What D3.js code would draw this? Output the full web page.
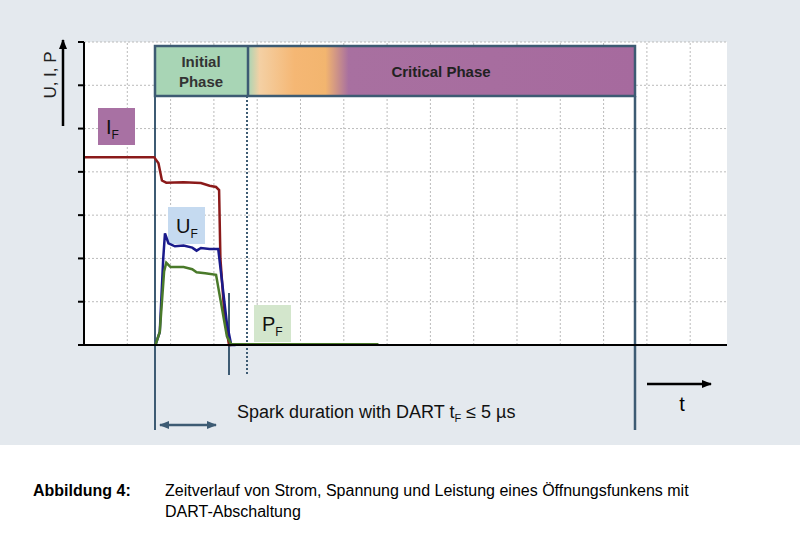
<!DOCTYPE html><html><head><meta charset="utf-8">
<script src="https://cdn.jsdelivr.net/npm/d3@7"></script>
<style>body{margin:0;background:#fff}svg{font-family:"Liberation Sans",Arial,sans-serif}</style></head><body>
<svg id="c" width="800" height="554"></svg>
<script>
const yTicks=[0,1,2,3,4,5,6,7];
const xGrid=[0,1,2,3,4,5,6,7,8,9,10,11,12,13,14];
const currentI=[[0,4.34],[1.62,4.34],[1.72,4.2],[1.8,3.8],[1.9,3.75],[2.3,3.76],[2.7,3.74],[2.9,3.68],[3.05,3.65],[3.12,3.58],[3.15,2.0],[3.25,0.6],[3.35,0],[3.4,0]];
const voltageU=[[1.65,0],[1.75,0.3],[1.83,2.0],[1.87,2.58],[1.95,2.35],[2.1,2.28],[2.3,2.3],[2.5,2.25],[2.6,2.18],[2.7,2.24],[2.9,2.22],[3.1,2.22],[3.3,0.5],[3.4,0],[3.5,0]];
const powerP=[[1.65,0],[1.75,0.3],[1.85,1.7],[1.9,1.9],[2.0,1.8],[2.3,1.8],[2.5,1.75],[2.6,1.68],[2.8,1.66],[3.05,1.62],[3.3,0.2],[3.4,0.02],[4.5,0.02],[6.8,0.02]];
const svg=d3.select("#c");
svg.append("rect").attr("x",0).attr("y",0).attr("width",800).attr("height",445).attr("fill","#e4e9ee");
const x=d3.scaleLinear().domain([0,14.85]).range([84,727]);
const y=d3.scaleLinear().domain([0,7]).range([345,42]);
svg.append("rect").attr("x",x(0)).attr("y",y(7)).attr("width",x(14.85)-x(0)).attr("height",y(0)-y(7)).attr("fill","#fff");
const g=svg.append("g");
g.selectAll(".h").data(yTicks.slice(1)).join("line").attr("x1",x(0)).attr("x2",x(14.85)).attr("y1",d=>y(d)).attr("y2",d=>y(d)).attr("stroke","#bbb").attr("stroke-dasharray","2,2");
g.selectAll(".v").data(xGrid.slice(1)).join("line").attr("y1",y(0)).attr("y2",y(7)).attr("x1",d=>x(d)).attr("x2",d=>x(d)).attr("stroke","#bbb").attr("stroke-dasharray","2,2");
const defs=svg.append("defs");
const gr=defs.append("linearGradient").attr("id","gr");
[[0,"#a8d5b5"],[0.03,"#f4d0a4"],[0.12,"#f5b774"],[0.2,"#f2b56f"],[0.26,"#a870a0"],[1,"#a66a9e"]].forEach(s=>gr.append("stop").attr("offset",s[0]).attr("stop-color",s[1]));
svg.append("rect").attr("x",155).attr("y",46).attr("width",93).attr("height",50).attr("fill","#a8d5b5");
svg.append("rect").attr("x",248).attr("y",46).attr("width",387).attr("height",50).attr("fill","url(#gr)");
svg.append("rect").attr("x",155).attr("y",46).attr("width",480).attr("height",50).attr("fill","none").attr("stroke","#3d5b73").attr("stroke-width",2.5);
svg.append("line").attr("x1",248).attr("x2",248).attr("y1",46).attr("y2",96).attr("stroke","#3d5b73").attr("stroke-width",2.5);
svg.append("line").attr("x1",155).attr("x2",155).attr("y1",96).attr("y2",430).attr("stroke","#3d5b73").attr("stroke-width",2);
svg.append("line").attr("x1",635).attr("x2",635).attr("y1",96).attr("y2",430).attr("stroke","#3d5b73").attr("stroke-width",2.5);
svg.append("line").attr("x1",247).attr("x2",247).attr("y1",96).attr("y2",375).attr("stroke","#3d5b73").attr("stroke-width",2).attr("stroke-dasharray","2,2");
svg.append("line").attr("x1",229).attr("x2",229).attr("y1",293).attr("y2",375).attr("stroke","#3d5b73").attr("stroke-width",2);
svg.append("text").attr("x",201).attr("y",67).attr("text-anchor","middle").attr("font-size",15).attr("font-weight","bold").attr("fill","#333").text("Initial");
svg.append("text").attr("x",201).attr("y",87).attr("text-anchor","middle").attr("font-size",15).attr("font-weight","bold").attr("fill","#333").text("Phase");
svg.append("text").attr("x",441).attr("y",77).attr("text-anchor","middle").attr("font-size",15).attr("font-weight","bold").attr("fill","#222").text("Critical Phase");
function lab(x0,y0,fill,t){svg.append("rect").attr("x",x0).attr("y",y0).attr("width",37).attr("height",37).attr("fill",fill);
 const tx=svg.append("text").attr("x",x0+8).attr("y",y0+26).attr("font-size",20).attr("fill","#111");tx.append("tspan").text(t);tx.append("tspan").attr("font-size",12).attr("dy",5).text("F");}
lab(98,108,"#a871a3","I");lab(168,207,"#c5daf0","U");lab(254,305,"#d3e6cc","P");
const line=d3.line().x(d=>x(d[0])).y(d=>y(d[1]));
svg.append("path").attr("d",line(currentI)).attr("fill","none").attr("stroke","#8b1a1a").attr("stroke-width",2.5);
svg.append("path").attr("d",line(voltageU)).attr("fill","none").attr("stroke","#1a1a8b").attr("stroke-width",2.5);
svg.append("path").attr("d",line(powerP)).attr("fill","none").attr("stroke","#4a7a2a").attr("stroke-width",2.5);
svg.append("line").attr("x1",x(0)).attr("x2",x(14.85)).attr("y1",y(0)).attr("y2",y(0)).attr("stroke","#000").attr("stroke-width",2);
svg.append("line").attr("x1",x(0)).attr("x2",x(0)).attr("y1",y(0)).attr("y2",y(7)).attr("stroke","#000").attr("stroke-width",2);
svg.selectAll(".tk").data(yTicks).join("line").attr("x1",x(0)-6).attr("x2",x(0)).attr("y1",d=>y(d)).attr("y2",d=>y(d)).attr("stroke","#000").attr("stroke-width",2);
defs.append("marker").attr("id","ar").attr("viewBox","0 0 10 10").attr("refX",9).attr("refY",5).attr("markerWidth",4).attr("markerHeight",4).attr("orient","auto").append("path").attr("d","M0,1L10,5L0,9Z").attr("fill","#000");
svg.append("line").attr("x1",63).attr("x2",63).attr("y1",126).attr("y2",40).attr("stroke","#000").attr("stroke-width",2.5).attr("marker-end","url(#ar)");
svg.append("text").attr("transform","translate(56,75) rotate(-90)").attr("text-anchor","middle").attr("font-size",17).attr("fill","#222").text("U, I, P");
svg.append("line").attr("x1",647).attr("x2",711).attr("y1",384).attr("y2",384).attr("stroke","#000").attr("stroke-width",2.5).attr("marker-end","url(#ar)");
svg.append("text").attr("x",682).attr("y",411).attr("text-anchor","middle").attr("font-size",20).text("t");
defs.append("marker").attr("id","ab").attr("viewBox","0 0 10 10").attr("refX",9).attr("refY",5).attr("markerWidth",4).attr("markerHeight",4).attr("orient","auto-start-reverse").append("path").attr("d","M0,1L10,5L0,9Z").attr("fill","#3d5b73");
svg.append("line").attr("x1",160).attr("x2",216).attr("y1",425).attr("y2",425).attr("stroke","#3d5b73").attr("stroke-width",2.5).attr("marker-end","url(#ab)").attr("marker-start","url(#ab)");
const st=svg.append("text").attr("x",237).attr("y",418).attr("font-size",18).attr("fill","#111");
st.append("tspan").text("Spark duration with DART t");st.append("tspan").attr("font-size",11).attr("dy",4).text("F");st.append("tspan").attr("dy",-4).text(" ≤ 5 µs");
svg.append("text").attr("x",33).attr("y",496).attr("font-size",16).attr("font-weight","bold").text("Abbildung 4:");
svg.append("text").attr("x",165).attr("y",496).attr("font-size",16).text("Zeitverlauf von Strom, Spannung und Leistung eines Öffnungsfunkens mit");
svg.append("text").attr("x",165).attr("y",517).attr("font-size",16).text("DART-Abschaltung");
</script></body></html>
